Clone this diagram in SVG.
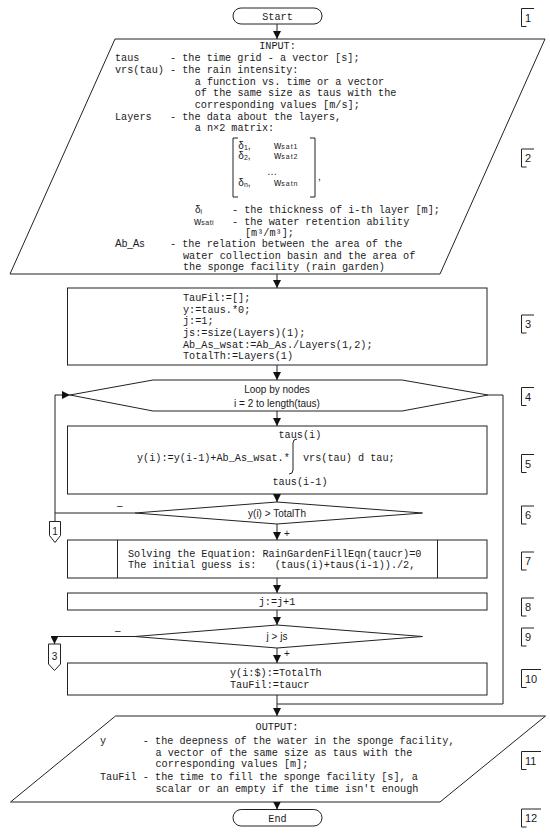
<svg xmlns="http://www.w3.org/2000/svg" width="550" height="834" viewBox="0 0 550 834">
<defs>
<marker id="ah" markerWidth="8" markerHeight="8" refX="8" refY="4" orient="auto" markerUnits="userSpaceOnUse">
<path d="M0,0 L8,4 L0,8 Z" fill="#111"/>
</marker>
<style>
.s{fill:#fff;stroke:#222;stroke-width:1}
.ln{fill:none;stroke:#222;stroke-width:1}
.m{font-family:"Liberation Mono","DejaVu Sans Mono",monospace;font-size:10.2px;fill:#1a1a1a}
.sa{font-family:"Liberation Sans",Arial,sans-serif;font-size:10px;fill:#1a1a1a}
.nb{font-family:"Liberation Sans",Arial,sans-serif;font-size:11px;fill:#1a1a1a}
.sub{font-size:7px}
</style>
</defs>
<rect width="550" height="834" fill="#fff"/>

<g id="connectors">
<line class="ln" x1="277" y1="24" x2="277" y2="39" marker-end="url(#ah)"/>
<line class="ln" x1="277" y1="274" x2="277" y2="288" marker-end="url(#ah)"/>
<line class="ln" x1="277" y1="365" x2="277" y2="380" marker-end="url(#ah)"/>
<line class="ln" x1="277" y1="411" x2="277" y2="426" marker-end="url(#ah)"/>
<line class="ln" x1="277" y1="494" x2="277" y2="502" marker-end="url(#ah)"/>
<line class="ln" x1="277" y1="524" x2="277" y2="540" marker-end="url(#ah)"/>
<text class="sa" x="284" y="537">+</text>
<line class="ln" x1="277" y1="578" x2="277" y2="593" marker-end="url(#ah)"/>
<line class="ln" x1="277" y1="610" x2="277" y2="625" marker-end="url(#ah)"/>
<line class="ln" x1="277" y1="648" x2="277" y2="663" marker-end="url(#ah)"/>
<text class="sa" x="284" y="657">+</text>
<line class="ln" x1="277" y1="695" x2="277" y2="716" marker-end="url(#ah)"/>
<polyline class="ln" points="277,704 503,704 503,395 488,395"/>
<polyline class="ln" points="135,513 55,513"/>
<line class="ln" x1="55" y1="521.5" x2="55" y2="395"/>
<line class="ln" x1="55" y1="395" x2="70" y2="395" marker-end="url(#ah)"/>
<text class="sa" x="117" y="509">–</text>
<polyline class="ln" points="135,636.5 54.5,636.5 54.5,644" marker-end="url(#ah)"/>
<text class="sa" x="115" y="634">–</text>
<line class="ln" x1="277" y1="802" x2="277" y2="809.5" marker-end="url(#ah)"/>
</g>

<g id="n1">
<rect class="s" x="233" y="8" width="89" height="16" rx="8"/>
<text class="m" x="277.5" y="19.5" text-anchor="middle">Start</text>
</g>

<g id="n2">
<polygon class="s" points="115,39 545,39 440,274 10,274"/>
<text class="m" x="277.5" y="48.5" text-anchor="middle">INPUT:</text>
<text class="m" xml:space="preserve" x="115" y="60.5">taus     - the time grid - a vector [s];</text>
<text class="m" xml:space="preserve" x="115" y="72.5">vrs(tau) - the rain intensity:</text>
<text class="m" x="194.7" y="84.5">a function vs. time or a vector</text>
<text class="m" x="194.7" y="96">of the same size as taus with the</text>
<text class="m" x="194.7" y="107.5">corresponding values [m/s];</text>
<text class="m" xml:space="preserve" x="115" y="119.5">Layers   - the data about the layers,</text>
<text class="m" x="194.7" y="131">a n×2 matrix:</text>
<path class="ln" d="M238,138 H233 V197 H238 M310,138 H315 V197 H310"/>
<text class="sa" font-size="11" x="318" y="180">,</text>
<text class="sa" font-size="12" x="238.3" y="149">δ<tspan class="sub" dy="1">1</tspan><tspan dy="-1">,</tspan></text>
<text class="sa" font-size="11" x="274" y="149">w<tspan class="sub" letter-spacing="1">sat1</tspan></text>
<text class="sa" font-size="12" x="238.3" y="158.5">δ<tspan class="sub" dy="1">2</tspan><tspan dy="-1">,</tspan></text>
<text class="sa" font-size="11" x="274" y="158.5">w<tspan class="sub" letter-spacing="1">sat2</tspan></text>
<text class="sa" font-size="8" x="267" y="175">…</text>
<text class="sa" font-size="12" x="238.3" y="186">δ<tspan class="sub" dy="1">n</tspan><tspan dy="-1">,</tspan></text>
<text class="sa" font-size="11" x="274" y="186">w<tspan class="sub" letter-spacing="1">satn</tspan></text>
<text class="sa" font-size="12" x="195" y="213">δ<tspan class="sub" dy="1">i</tspan></text>
<text class="m" x="232" y="212.5">- the thickness of i-th layer [m];</text>
<text class="sa" font-size="11" x="194" y="224.5">w<tspan class="sub" letter-spacing="0.5">sati</tspan></text>
<text class="m" x="232" y="224.5">- the water retention ability</text>
<text class="m" x="245" y="235.5">[m³/m³];</text>
<text class="sa" x="115" y="246.5">Ab_As</text>
<text class="m" x="170" y="246.5">- the relation between the area of the</text>
<text class="m" x="183" y="258.5">water collection basin and the area of</text>
<text class="m" x="183" y="270">the sponge facility (rain garden)</text>
</g>

<g id="n3">
<rect class="s" x="67.5" y="288" width="419.5" height="77"/>
<text class="m" x="183" y="300.5">TauFil:=[];</text>
<text class="m" x="183" y="312.5">y:=taus.*0;</text>
<text class="m" x="183" y="324">j:=1;</text>
<text class="m" x="183" y="335.5">js:=size(Layers)(1);</text>
<text class="m" x="183" y="347.5">Ab_As_wsat:=Ab_As./Layers(1,2);</text>
<text class="m" x="183" y="358.5">TotalTh:=Layers(1)</text>
</g>

<g id="n4">
<polygon class="s" points="70,395 153,380 402,380 488,395 402,411 153,411"/>
<text class="sa" x="277" y="392.5" text-anchor="middle">Loop by nodes</text>
<text class="sa" x="277" y="406.5" text-anchor="middle">i = 2 to length(taus)</text>
</g>

<g id="n5">
<rect class="s" x="67.5" y="426" width="419.5" height="68"/>
<text class="m" x="278.5" y="437.5">taus(i)</text>
<text class="m" x="137" y="460.5">y(i):=y(i-1)+Ab_As_wsat.*</text>
<path class="ln" stroke-width="1.2" d="M297,439 Q293,439 293,443 V470 Q293,474 289,474"/>
<text class="m" x="303" y="460.5">vrs(tau) d tau;</text>
<text class="m" x="272.5" y="484.5">taus(i-1)</text>
</g>

<g id="n6">
<polygon class="s" points="277,502 422.5,513 277,524 135,513"/>
<text class="sa" x="277" y="516.5" text-anchor="middle">y(i) &gt; TotalTh</text>
</g>

<g id="c1">
<path class="s" d="M49.5,521.5 H60.5 V535.5 L55,542.5 L49.5,535.5 Z"/>
<text class="sa" font-size="9" x="55" y="534.5" text-anchor="middle">1</text>
</g>

<g id="n7">
<rect class="s" x="67.5" y="540" width="419.5" height="38"/>
<line class="ln" x1="117.5" y1="540" x2="117.5" y2="578"/>
<line class="ln" x1="437.5" y1="540" x2="437.5" y2="578"/>
<text class="m" x="128" y="556.5">Solving the Equation: RainGardenFillEqn(taucr)=0</text>
<text class="m" xml:space="preserve" x="128" y="568">The initial guess is:   (taus(i)+taus(i-1))./2,</text>
</g>

<g id="n8">
<rect class="s" x="67.5" y="593" width="419.5" height="17"/>
<text class="m" x="277" y="605" text-anchor="middle">j:=j+1</text>
</g>

<g id="n9">
<polygon class="s" points="277,625 422.5,636.5 277,648 135,636.5"/>
<text class="sa" x="277" y="640" text-anchor="middle">j &gt; js</text>
</g>

<g id="c3">
<path class="s" d="M48.5,644 H60.5 V664 L54.5,670.5 L48.5,664 Z"/>
<text class="sa" font-size="9" x="54.5" y="660" text-anchor="middle">3</text>
</g>

<g id="n10">
<rect class="s" x="67.5" y="663" width="419.5" height="32"/>
<text class="m" x="230" y="676">y(i:$):=TotalTh</text>
<text class="m" x="230" y="687.5">TauFil:=taucr</text>
</g>

<g id="n11">
<polygon class="s" points="115.5,716 545.5,716 440,802 10.5,802"/>
<text class="m" x="277" y="729.5" text-anchor="middle">OUTPUT:</text>
<text class="m" xml:space="preserve" x="100" y="743.5">y      - the deepness of the water in the sponge facility,</text>
<text class="m" x="155.5" y="755.5">a vector of the same size as taus with the</text>
<text class="m" x="155.5" y="767">corresponding values [m];</text>
<text class="m" xml:space="preserve" x="100" y="780">TauFil - the time to fill the sponge facility [s], a</text>
<text class="m" x="155.5" y="791.5">scalar or an empty if the time isn't enough</text>
</g>

<g id="n12">
<rect class="s" x="233" y="809.5" width="89" height="16.5" rx="8.2"/>
<text class="m" x="277.5" y="821.5" text-anchor="middle">End</text>
</g>

<g id="labels">
<path class="ln" d="M534,8.5 H521.5 V26.5 H526.5"/><text class="nb" x="525" y="22">1</text>
<path class="ln" d="M534,149 H521.5 V167 H526.5"/><text class="nb" x="525" y="162">2</text>
<path class="ln" d="M534,315 H521.5 V333 H526.5"/><text class="nb" x="525" y="328">3</text>
<path class="ln" d="M534,387.5 H521.5 V405.5 H526.5"/><text class="nb" x="525" y="400.5">4</text>
<path class="ln" d="M534,454.5 H521.5 V472.5 H526.5"/><text class="nb" x="525" y="467.5">5</text>
<path class="ln" d="M534,506 H521.5 V524 H526.5"/><text class="nb" x="525" y="519">6</text>
<path class="ln" d="M534,552 H521.5 V570 H526.5"/><text class="nb" x="525" y="565">7</text>
<path class="ln" d="M534,598 H521.5 V616 H526.5"/><text class="nb" x="525" y="611">8</text>
<path class="ln" d="M534,628 H521.5 V646 H526.5"/><text class="nb" x="525" y="641">9</text>
<path class="ln" d="M541,669.5 H521.5 V687.5 H526.5"/><text class="nb" x="525" y="682.5">10</text>
<path class="ln" d="M541,751.5 H521.5 V769.5 H526.5"/><text class="nb" x="525" y="764.5">11</text>
<path class="ln" d="M541,809 H521.5 V827 H526.5"/><text class="nb" x="525" y="822">12</text>
</g>
</svg>
